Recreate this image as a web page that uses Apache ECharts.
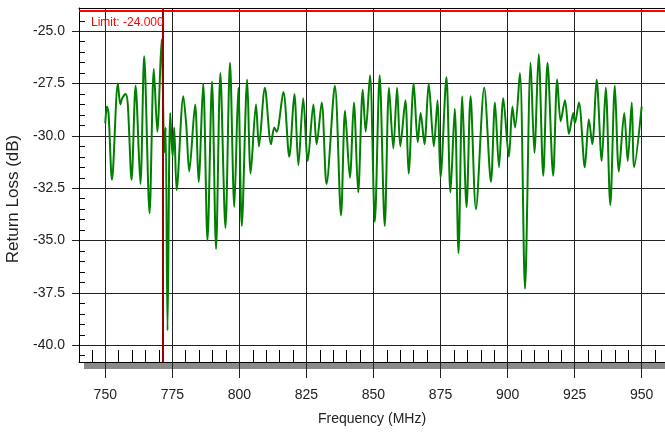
<!DOCTYPE html>
<html>
<head>
<meta charset="utf-8">
<script src="https://cdn.jsdelivr.net/npm/echarts@6/dist/echarts.min.js"></script>
<style>
  html, body { margin: 0; padding: 0; background: #fff; }
  #main { width: 665px; height: 432px; }
</style>
</head>
<body>
<div id="main"></div>
<script>
// return loss sweep, peaks and dips
const freqMHz = [
  750.0, 750.6, 751.2, 752.5, 754.7, 755.6, 756.3, 757.6, 758.4, 759.8,
  761.3, 763.1, 764.5, 766.5, 768.1, 769.4, 771.0, 772.0, 772.5, 773.2,
  774.2, 775.1, 775.7, 776.6, 779.1, 780.2, 781.3, 783.5, 784.8, 786.5,
  788.1, 789.8, 791.3, 792.9, 794.8, 796.5, 798.1, 799.6, 800.9, 802.9,
  804.2, 806.2, 807.3, 809.5, 811.8, 813.0, 813.9, 816.4, 818.6, 820.5,
  822.0, 823.8, 825.5, 827.6, 828.8, 830.7, 832.5, 835.6, 837.9, 839.4,
  841.2, 842.7, 844.3, 846.0, 847.1, 848.7, 850.5, 852.3, 854.2, 855.8,
  857.4, 858.8, 860.0, 861.9, 863.1, 865.0, 866.5, 867.6, 869.0, 870.6,
  872.5, 873.9, 875.0, 877.2, 878.7, 880.3, 881.7, 883.1, 884.7, 886.2,
  888.2, 891.3, 893.8, 895.3, 896.8, 898.4, 900.5, 901.8, 902.8, 904.6,
  906.5, 908.6, 910.0, 911.6, 913.3, 914.9, 917.0, 918.5, 919.8, 921.4,
  922.9, 924.5, 925.1, 926.6, 928.8, 930.3, 931.6, 933.2, 935.1, 936.6,
  938.3, 940.0, 941.5, 943.5, 944.8, 946.3, 947.2, 950.0
];
const returnLossDb = [
  -29.4, -28.6, -28.9, -32.1, -27.5, -28.5, -28.2, -28.0, -28.5, -32.1,
  -27.6, -32.3, -26.2, -33.7, -26.8, -29.8, -25.4, -30.8, -29.6, -39.3,
  -28.9, -31.0, -29.6, -32.6, -28.1, -29.5, -31.7, -28.5, -32.2, -27.5,
  -35.0, -27.4, -35.4, -27.0, -34.4, -26.5, -33.4, -27.7, -34.3, -27.3,
  -31.8, -28.5, -30.5, -27.7, -30.4, -29.6, -29.8, -27.9, -31.0, -28.0,
  -31.4, -28.2, -31.2, -28.5, -30.4, -28.4, -32.3, -27.6, -33.8, -28.8,
  -32.0, -28.4, -32.7, -27.8, -29.8, -27.1, -34.1, -27.1, -34.3, -27.7,
  -30.6, -27.7, -30.5, -28.3, -31.8, -27.5, -30.3, -28.9, -30.4, -27.5,
  -30.5, -28.3, -32.0, -27.2, -32.7, -28.7, -35.6, -28.1, -33.4, -28.1,
  -33.5, -27.7, -32.2, -28.4, -31.5, -28.2, -31.0, -28.6, -29.6, -27.0,
  -37.3, -26.5, -30.8, -26.1, -31.9, -26.5, -31.9, -27.3, -29.3, -28.3,
  -29.9, -28.9, -29.4, -28.4, -31.5, -29.2, -30.4, -27.3, -31.2, -27.7,
  -33.3, -27.6, -31.7, -28.9, -31.2, -28.4, -31.5, -28.6
];

const xMajorTicks = [750, 775, 800, 825, 850, 875, 900, 925, 950];
const xMinorTicks = [745, 755, 760, 765, 770, 780, 785, 790, 795, 805, 810, 815, 820,
  830, 835, 840, 845, 855, 860, 865, 870, 880, 885, 890, 895, 905, 910, 915, 920,
  930, 935, 940, 945, 955];
const yMajorTicks = [-40, -37.5, -35, -32.5, -30, -27.5, -25];
const yMinorTicks = [-40.5, -39.5, -39, -38.5, -38, -37, -36.5, -36, -35.5, -34.5, -34,
  -33.5, -33, -32, -31.5, -31, -30.5, -29.5, -29, -28.5, -28, -27, -26.5, -26, -25.5, -24.5];

const limitDb = -24;
const markerMHz = 771.5;

const xMin = 740.2, xMax = 958.7;
const yMin = -40.8, yMax = -23.89;
const font = "'Liberation Sans', Arial, sans-serif";

const chart = echarts.init(document.getElementById('main'));

chart.setOption({
  animation: false,
  backgroundColor: '#fff',
  grid: { left: 79, right: 0, top: 8, bottom: 70, outerBoundsMode: 'none', containLabel: false },
  graphic: [{
    type: 'rect', z: -1,
    left: 84, top: 363,
    shape: { width: 581, height: 6 },
    style: { fill: '#8a8a8a' }
  }],
  xAxis: [
    {
      type: 'value', position: 'bottom', min: xMin, max: xMax,
      axisLine: { show: true, onZero: false, lineStyle: { color: '#000', width: 1 } },
      axisTick: { show: true, customValues: xMajorTicks, length: 16, lineStyle: { color: '#222' } },
      axisLabel: { customValues: xMajorTicks, margin: 26, fontSize: 14, fontFamily: font, color: '#222' },
      splitLine: { show: true, lineStyle: { color: '#222', width: 1 } },
      name: 'Frequency (MHz)', nameLocation: 'middle', nameGap: 50,
      nameTextStyle: { fontSize: 14, fontFamily: font, color: '#222' }
    },
    {
      type: 'value', position: 'bottom', min: xMin, max: xMax,
      axisLine: { show: false },
      axisTick: { show: true, inside: true, customValues: xMinorTicks, length: 12, lineStyle: { color: '#000' } },
      axisLabel: { show: false },
      splitLine: { show: false }
    },
    {
      type: 'value', position: 'top', min: xMin, max: xMax,
      axisLine: { show: true, lineStyle: { color: '#000' } },
      axisTick: { show: false }, axisLabel: { show: false }, splitLine: { show: false }
    }
  ],
  yAxis: [
    {
      type: 'value', position: 'left', min: yMin, max: yMax,
      axisLine: { show: true, onZero: false, lineStyle: { color: '#000', width: 1 } },
      axisTick: { show: true, customValues: yMajorTicks, length: 7, lineStyle: { color: '#222' } },
      axisLabel: {
        customValues: yMajorTicks, margin: 14, fontSize: 14, fontFamily: font, color: '#222',
        formatter: v => v.toFixed(1)
      },
      splitLine: { show: true, lineStyle: { color: '#222', width: 1 } },
      name: 'Return Loss (dB)', nameLocation: 'middle', nameGap: 49,
      nameTextStyle: { fontSize: 17, fontFamily: font, color: '#222', padding: [0, 28, 0, 0] }
    },
    {
      type: 'value', position: 'left', min: yMin, max: yMax,
      axisLine: { show: false },
      axisTick: { show: true, inside: true, customValues: yMinorTicks, length: 6, lineStyle: { color: '#000' } },
      axisLabel: { show: false },
      splitLine: { show: false }
    }
  ],
  series: [{
    type: 'line',
    xAxisIndex: 0, yAxisIndex: 0,
    data: freqMHz.map((f, i) => [f, returnLossDb[i]]),
    symbol: 'none',
    smooth: 0.3,
    lineStyle: { color: '#008000', width: 2 },
    markLine: {
      silent: true,
      symbol: ['none', 'none'],
      data: [
        {
          yAxis: limitDb,
          lineStyle: { color: '#ff0000', width: 2, type: 'solid' },
          label: {
            show: true, position: 'insideStartBottom', distance: [12, 6],
            formatter: 'Limit: -24.000', color: '#ff0000', fontSize: 12, fontFamily: font
          }
        },
        {
          xAxis: markerMHz,
          lineStyle: { color: '#990000', width: 2, type: 'solid' },
          label: { show: false }
        }
      ]
    }
  }]
});
</script>
</body>
</html>
